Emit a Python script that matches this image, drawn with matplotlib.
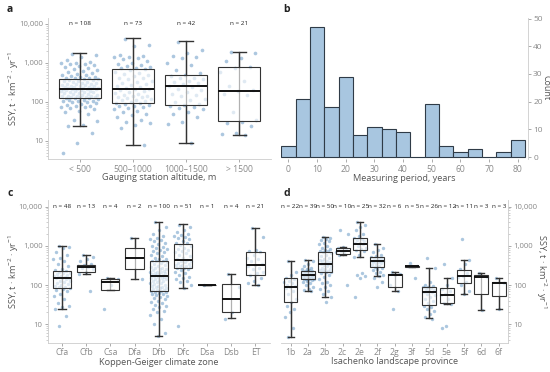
import numpy as np
import matplotlib
matplotlib.use("Agg")
import matplotlib.pyplot as plt
from matplotlib.ticker import LogLocator, FixedLocator, NullFormatter

plt.rcParams['font.family'] = ['Open Sans', 'DejaVu Sans']
plt.rcParams['mathtext.fontset'] = 'custom'
plt.rcParams['mathtext.rm'] = 'Open Sans'
plt.rcParams['mathtext.it'] = 'Open Sans'

# ---------------- data ----------------
# Panel a: altitude groups
alt_labels = ["< 500", "500\u20131000", "1000\u20131500", "> 1500"]
alt_n = [108, 73, 42, 21]
alt_q1 = [127, 94, 85, 31.6]
alt_med = [217, 217, 249, 196]
alt_q3 = [393, 686, 500, 772]
alt_lo = [23.4, 7.7, 8.7, 14]
alt_hi = [1750, 4270, 3560, 1920]
alt_pts_1 = [1650, 1550, 1400, 1200, 1050, 1000, 980, 950, 920, 880, 850, 800, 750, 700, 650, 620, 600, 560, 530, 500, 480, 460, 440, 430, 420, 410, 400,
             390, 380, 370, 360, 350, 340, 330, 320, 310, 300, 290, 285, 280, 270, 265, 260, 255, 250, 245, 240, 235, 230, 228, 225, 222, 220, 218,
             216, 212, 208, 205, 200, 196, 192, 188, 184, 180, 175, 170, 165, 160, 156, 152, 148, 145, 142, 140, 138, 135, 133, 131, 130, 129, 128,
             125, 120, 115, 110, 108, 105, 103, 100, 98, 95, 90, 85, 80, 78, 75, 72, 70, 65, 60, 55, 50, 35, 33, 26, 24, 16, 9, 5]
alt_pts_2 = [4200, 2900, 2700, 1600, 1500, 1450, 1400, 1300, 1250, 1100, 1000, 950, 900, 850, 800, 750, 720, 700,
             650, 600, 560, 520, 480, 450, 420, 400, 380, 350, 330, 310, 290, 270, 255, 240, 230, 220,
             210, 200, 190, 180, 170, 160, 150, 145, 140, 135, 130, 125, 120, 115, 110, 105, 100, 96,
             92, 88, 85, 80, 78, 75, 70, 65, 60, 55, 50, 45, 40, 35, 30, 28, 25, 22, 7.7]
alt_pts_3 = [3500, 2100, 1800, 1500, 1400, 1300, 1000, 900, 650, 550,
             480, 450, 420, 400, 380, 350, 330, 300, 280, 260,
             240, 220, 200, 180, 160, 150, 140, 120, 110, 100, 90,
             82, 80, 75, 70, 65, 55, 48, 40, 30, 27, 8.7]
alt_pts_4 = [1900, 1750, 1300, 1150, 800, 750, 600, 350, 250, 200,
             190, 160, 150, 55, 35, 30, 29, 24, 16, 15, 14]

# Panel b: measuring period histogram
period_centers = [0, 5, 10, 15, 20, 25, 30, 35, 40, 45, 50, 55, 60, 65, 70, 75, 80]
period_counts = [4, 21, 47, 18, 29, 8, 11, 10, 9, 0, 19, 4, 2, 3, 0, 2, 6]

# Panel c: Koppen-Geiger climate zones
kg_labels = ["Cfa", "Cfb", "Csa", "Dfa", "Dfb", "Dfc", "Dsa", "Dsb", "ET"]
kg_n = [48, 13, 4, 2, 100, 51, 1, 4, 21]
kg_q1 = [83, 212, 75, 263, 70, 268, 100, 20, 178]
kg_med = [151, 290, 122, 482, 171, 437, 100, 44, 320]
kg_q3 = [229, 326, 146, 870, 412, 1100, 100, 109, 711]
kg_lo = [24, 188, 75, 141, 4.9, 83, 100, 14.2, 99]
kg_hi = [993, 575, 150, 1560, 4140, 3550, 100, 195, 2810]
kg_pts_Cfa = [990, 950, 880, 700, 600, 500, 450, 400, 350, 300, 260, 240,
              225, 215, 205, 200, 190, 185, 175, 170, 165, 160, 155, 152,
              148, 140, 130, 125, 120, 110, 105, 100, 95, 90, 88, 85,
              80, 75, 70, 60, 52, 45, 35, 30, 28, 24, 16, 9]
kg_pts_Cfb = [575, 520, 450, 400, 340, 320, 300, 290, 270, 250, 220, 190, 70]
kg_pts_Csa = [150, 140, 100, 25]
kg_pts_Dfa = [1560, 141]
kg_pts_Dfb = [4100, 3000, 2500, 2000, 1800, 1600, 1500, 1400, 1300, 1200, 1100, 1000, 950, 900, 850, 800, 750, 700, 650, 600, 550, 500, 470, 450, 420,
              410, 400, 380, 360, 340, 320, 300, 290, 280, 270, 260, 250, 240, 230, 220, 215, 210, 205, 200, 195, 190, 185, 180, 175, 172,
              170, 165, 160, 155, 150, 145, 140, 135, 130, 125, 120, 115, 110, 105, 100, 97, 94, 90, 88, 85, 82, 79, 76, 73, 71,
              69, 67, 65, 62, 60, 58, 55, 52, 50, 47, 44, 40, 37, 34, 31, 29, 27, 25, 22, 20, 17, 14, 10, 6, 4.9]
kg_pts_Dfc = [3500, 3000, 2500, 2200, 2000, 1900, 1800, 1700, 1600, 1500, 1300, 1200, 1150,
              1050, 1000, 900, 850, 800, 750, 700, 650, 600, 550, 500, 460,
              430, 420, 400, 380, 360, 350, 330, 320, 310, 300, 290, 280, 270,
              260, 240, 220, 200, 180, 160, 150, 140, 130, 120, 100, 83, 9]
kg_pts_Dsa = [100]
kg_pts_Dsb = [195, 90, 20, 14]
kg_pts_ET = [2800, 1700, 800, 750, 700, 600, 500, 450, 400, 350, 320, 300, 280, 250, 220, 200, 180, 150, 130, 110, 100]

# Panel d: Isachenko landscape provinces
isa_labels = ["1b", "2a", "2b", "2c", "2e", "2f", "2g", "3f", "5d", "5e", "5f", "6d", "6f"]
isa_n = [22, 39, 50, 10, 25, 32, 6, 5, 26, 12, 11, 3, 3]
isa_q1 = [37.8, 143, 220, 611, 786, 295, 91, 295, 31, 35, 111, 59, 54]
isa_med = [91, 181, 345, 741, 1138, 412, 181, 303, 68, 57, 168, 164, 111]
isa_q3 = [149, 229, 711, 871, 1560, 521, 195, 312, 89.5, 83, 243, 181, 122]
isa_lo = [4.8, 71, 49, 586, 512, 171, 72, 295, 14.2, 32.4, 58, 23, 25]
isa_hi = [419, 429, 1718, 955, 4140, 1117, 212, 312, 278, 149, 429, 200, 149]
isa_pts_1b = [419, 220, 180, 150, 140, 130, 120, 110, 100, 95, 90, 85, 70, 60, 45, 38, 30, 25, 20, 15, 8, 4.8]
isa_pts_2a = [429, 400, 350, 300, 280, 260, 250, 240, 235, 230, 225, 220, 210, 200, 195, 190, 185, 182, 180, 178,
              175, 170, 165, 160, 155, 150, 147, 145, 143, 140, 135, 130, 120, 110, 100, 90, 80, 75, 71]
isa_pts_2b = [1700, 1600, 1500, 1400, 1300, 1200, 1100, 1000, 900, 850, 800, 750, 720, 700, 650, 600, 550, 500, 470, 440,
              420, 400, 380, 360, 350, 340, 330, 310, 300, 280, 260, 250, 240, 230, 225, 220, 210, 200, 180, 160,
              140, 120, 110, 100, 90, 80, 70, 60, 49, 38]
isa_pts_2c = [2500, 2000, 955, 900, 800, 750, 700, 650, 586, 100]
isa_pts_2e = [4100, 3500, 3000, 2500, 2000, 1800, 1600, 1500, 1400, 1300, 1200, 1150, 1100, 1000, 900, 850, 800, 750,
              600, 512, 200, 180, 170, 150, 50]
isa_pts_2f = [1100, 900, 800, 700, 600, 550, 520, 500, 480, 460, 440, 420, 415, 410, 400, 390, 380, 360, 340, 320,
              300, 290, 280, 260, 240, 220, 200, 180, 171, 150, 120, 90]
isa_pts_2g = [212, 190, 180, 100, 72, 24]
isa_pts_3f = [366, 310, 305, 300, 149]
isa_pts_5d = [500, 278, 120, 100, 95, 90, 88, 85, 80, 75, 70, 68, 65, 60, 55, 50, 45, 40, 35, 30, 28, 25, 22, 18, 15, 14]
isa_pts_5e = [350, 149, 100, 80, 70, 60, 55, 45, 35, 32, 9, 8]
isa_pts_5f = [1500, 429, 350, 250, 200, 170, 160, 120, 100, 70, 58]
isa_pts_6d = [200, 164, 23]
isa_pts_6f = [149, 111, 25]

alt_pts = [alt_pts_1, alt_pts_2, alt_pts_3, alt_pts_4]
kg_pts = [kg_pts_Cfa, kg_pts_Cfb, kg_pts_Csa, kg_pts_Dfa, kg_pts_Dfb, kg_pts_Dfc, kg_pts_Dsa, kg_pts_Dsb, kg_pts_ET]
isa_pts = [isa_pts_1b, isa_pts_2a, isa_pts_2b, isa_pts_2c, isa_pts_2e, isa_pts_2f, isa_pts_2g, isa_pts_3f,
           isa_pts_5d, isa_pts_5e, isa_pts_5f, isa_pts_6d, isa_pts_6f]

# ---------------- style ----------------
PT_COLOR = "#3b7bb3"
BOX_EDGE = "#333333"
TICK_COLOR = "#8a8a8a"
LABEL_COLOR = "#555555"
AXIS_LINE = "#cccccc"
TICK_FS = 5.6
LABEL_FS = 6.6
N_FS = 4.6
YLABEL = "SSY, t \u00b7 km$^{-2}$ \u00b7 yr$^{-1}$"

W, H = 550, 372
fig = plt.figure(figsize=(W / 100, H / 100), dpi=100)


def px_axes(l, r, t, b):
    return fig.add_axes([l / W, (H - b) / H, (r - l) / W, (b - t) / H])


def jitter(n, width):
    k = np.arange(n)
    return ((k * 0.6180339887 + 0.3) % 1.0 - 0.5) * 2 * width


def style_log_axis(ax, right=False):
    ax.set_yscale('log')
    ax.set_ylim(10 ** 0.535, 10 ** 4.165)
    ax.yaxis.set_major_locator(FixedLocator([10, 100, 1000, 10000]))
    ax.set_yticklabels(["10", "100", "1,000", "10,000"])
    ax.yaxis.set_minor_locator(LogLocator(base=10, subs=np.arange(2, 10) * 1.0, numticks=20))
    ax.yaxis.set_minor_formatter(NullFormatter())
    for s in ax.spines.values():
        s.set_visible(False)
    side = 'right' if right else 'left'
    ax.spines[side].set_visible(True)
    ax.spines[side].set_color(AXIS_LINE)
    ax.spines[side].set_linewidth(0.6)
    ax.spines['bottom'].set_visible(True)
    ax.spines['bottom'].set_color(AXIS_LINE)
    ax.spines['bottom'].set_linewidth(0.6)
    if right:
        ax.yaxis.tick_right()
        ax.yaxis.set_label_position('right')
    ax.tick_params(axis='y', which='major', length=2.5, width=0.5, color=TICK_COLOR,
                   labelsize=TICK_FS, labelcolor=TICK_COLOR, pad=1)
    ax.tick_params(axis='y', which='minor', length=1.5, width=0.4, color="#aaaaaa")
    ax.tick_params(axis='x', which='major', length=2, width=0.5, color=TICK_COLOR,
                   labelsize=TICK_FS + 0.6, labelcolor=TICK_COLOR, pad=2)
    ax.tick_params(axis='x', which='minor', length=0)


def box_panel(ax, labels, n, q1, med, q3, lo, hi, pts, box_w, cap_w, jit_w, pt_size):
    pos = np.arange(1, len(labels) + 1)
    for i, p in enumerate(pts):
        xs = pos[i] + jitter(len(p), jit_w)
        ax.scatter(xs, p, s=pt_size, color=PT_COLOR, alpha=0.42, linewidths=0, zorder=1)
    ax.vlines(pos, lo, hi, color=BOX_EDGE, linewidth=0.9, zorder=2)
    stats = [dict(med=med[i], q1=q1[i], q3=q3[i], whislo=lo[i], whishi=hi[i], fliers=[])
             for i in range(len(labels))]
    ax.bxp(stats, positions=pos, widths=box_w, patch_artist=True, showfliers=False,
           boxprops=dict(facecolor=(1, 1, 1, 0.62), edgecolor=BOX_EDGE, linewidth=0.8),
           medianprops=dict(color="#111111", linewidth=1.4),
           whiskerprops=dict(color=BOX_EDGE, linewidth=0.9),
           capprops=dict(color=BOX_EDGE, linewidth=1.0), capwidths=cap_w, zorder=3)
    for i in range(len(labels)):
        ax.text(pos[i], 10000, f"n = {n[i]}", ha='center', va='center', fontsize=N_FS, color="#222222")
    ax.set_xticks(pos)
    ax.set_xticklabels(labels)
    ax.set_xlim(0.4, len(labels) + 0.6)


def place_label(axis, x, y, rot):
    axis.set_label_coords(x, y)
    axis.label.set_rotation(rot)
    axis.label.set_ha('center')
    axis.label.set_va('center')


# ---- panel a ----
ax_a = px_axes(48, 271, 17.5, 159)
box_panel(ax_a, alt_labels, alt_n, alt_q1, alt_med, alt_q3, alt_lo, alt_hi, alt_pts,
          box_w=0.8, cap_w=0.25, jit_w=0.36, pt_size=7)
style_log_axis(ax_a)
ax_a.set_xlabel("Gauging station altitude, m", fontsize=LABEL_FS, color=LABEL_COLOR)
ax_a.set_ylabel(YLABEL, fontsize=LABEL_FS, color=LABEL_COLOR)
place_label(ax_a.xaxis, 0.5, (159 - 178) / 141.5, 0)
place_label(ax_a.yaxis, (13.5 - 48) / 223, 0.5, 90)

# ---- panel b ----
ax_b = px_axes(281, 528, 17.5, 159)
ax_b.bar(period_centers, period_counts, width=5, color="#a8c6e0", edgecolor="#2f3b47", linewidth=0.8)
ax_b.set_xlim(-2.6, 83.6)
ax_b.set_ylim(-0.7, 50.4)
ax_b.set_xticks([0, 10, 20, 30, 40, 50, 60, 70, 80])
ax_b.set_yticks([0, 10, 20, 30, 40, 50])
for s in ax_b.spines.values():
    s.set_visible(False)
ax_b.spines['right'].set_visible(True)
ax_b.spines['right'].set_color(AXIS_LINE)
ax_b.spines['right'].set_linewidth(0.6)
ax_b.yaxis.tick_right()
ax_b.yaxis.set_label_position('right')
ax_b.tick_params(axis='x', length=2.5, width=0.5, color=TICK_COLOR,
                 labelsize=TICK_FS + 0.6, labelcolor=TICK_COLOR, pad=2)
ax_b.tick_params(axis='y', length=2.5, width=0.5, color=TICK_COLOR,
                 labelsize=TICK_FS + 0.4, labelcolor=TICK_COLOR, pad=1.2)
ax_b.set_xlabel("Measuring period, years", fontsize=LABEL_FS, color=LABEL_COLOR)
ax_b.set_ylabel("Count", fontsize=LABEL_FS - 0.2, color=LABEL_COLOR)
place_label(ax_b.xaxis, 0.5, (159 - 178.3) / 141.5, 0)
place_label(ax_b.yaxis, (546 - 281) / 247, (159 - 88) / 141.5, 270)

# ---- panel c ----
ax_c = px_axes(47.5, 270, 200.2, 342.5)
box_panel(ax_c, kg_labels, kg_n, kg_q1, kg_med, kg_q3, kg_lo, kg_hi, kg_pts,
          box_w=0.75, cap_w=0.3, jit_w=0.36, pt_size=6)
style_log_axis(ax_c)
ax_c.set_xlabel("Koppen-Geiger climate zone", fontsize=LABEL_FS, color=LABEL_COLOR)
ax_c.set_ylabel(YLABEL, fontsize=LABEL_FS, color=LABEL_COLOR)
place_label(ax_c.xaxis, 0.5, (342.5 - 362.5) / 142.3, 0)
place_label(ax_c.yaxis, (13.5 - 47.5) / 222.5, 0.5, 90)

# ---- panel d ----
ax_d = px_axes(281, 508.3, 200.2, 342.5)
box_panel(ax_d, isa_labels, isa_n, isa_q1, isa_med, isa_q3, isa_lo, isa_hi, isa_pts,
          box_w=0.8, cap_w=0.35, jit_w=0.36, pt_size=6)
ax_d.set_xlim(0.45, 13.55)
style_log_axis(ax_d, right=True)
ax_d.set_xlabel("Isachenko landscape province", fontsize=LABEL_FS, color=LABEL_COLOR)
ax_d.set_ylabel(YLABEL, fontsize=LABEL_FS, color=LABEL_COLOR)
place_label(ax_d.xaxis, 0.5, (342.5 - 361.5) / 142.3, 0)
place_label(ax_d.yaxis, (541 - 281) / 227.3, 0.5, 270)

# panel letters
for txt, x, y in [("a", 7, 10), ("b", 283, 10), ("c", 7, 193), ("d", 283, 193)]:
    fig.text(x / W, 1 - y / H, txt, fontsize=7.5, fontweight='bold', ha='left', va='center', color="#222222")

fig.savefig("out.png", dpi=100)
